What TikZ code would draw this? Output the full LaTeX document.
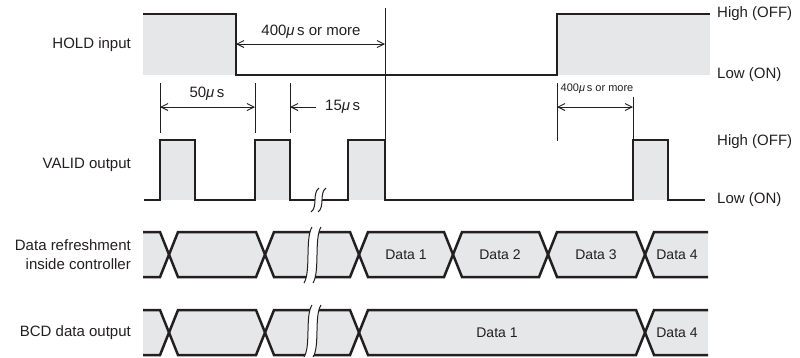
\documentclass[tikz,border=0pt]{standalone}
\usepackage{fontspec}
\setmainfont{Liberation Sans}
\usetikzlibrary{arrows.meta}
\definecolor{sig}{HTML}{231F20}
\definecolor{fillg}{HTML}{E6E7E8}
\newcommand\brkmark[4]{% #1 x of left curve, #2 top, #3 bottom, #4 gap
  \fill[white] ({#1+4},#2) .. controls ({#1-3},{#2+0.2*(#3-#2)}) and ({#1+3},{#2+0.8*(#3-#2)}) .. ({#1-4},#3)
     -- ({#1+#4-4},#3) .. controls ({#1+#4+3},{#2+0.8*(#3-#2)}) and ({#1+#4-3},{#2+0.2*(#3-#2)}) .. ({#1+#4+4},#2) -- cycle;
  \draw[brkline] ({#1+4},#2) .. controls ({#1-3},{#2+0.2*(#3-#2)}) and ({#1+3},{#2+0.8*(#3-#2)}) .. ({#1-4},#3);
  \draw[brkline] ({#1+#4+4},#2) .. controls ({#1+#4-3},{#2+0.2*(#3-#2)}) and ({#1+#4+3},{#2+0.8*(#3-#2)}) .. ({#1+#4-4},#3);
}
\begin{document}
\begin{tikzpicture}[x=1bp,y=-1bp,
  sigline/.style={draw=sig,line width=2.5bp,line join=miter},
  dimline/.style={draw=sig,line width=0.9bp},
  brkline/.style={draw=sig,line width=1bp},
  barb/.tip={Straight Barb[length=7bp,width=7bp]},
  lbl/.style={font=\fontsize{15bp}{19bp}\selectfont,text=sig,inner sep=0pt},
  dlbl/.style={font=\fontsize{14bp}{17bp}\selectfont,text=sig,inner sep=0pt},
  slbl/.style={font=\fontsize{11bp}{12bp}\selectfont,text=sig,inner sep=0pt}]
\useasboundingbox (0,0) rectangle (800,357);

% ---------- HOLD input ----------
\fill[fillg] (143,14) rectangle (236,75);
\fill[fillg] (557,14) rectangle (710,75);
\draw[sigline] (143,14) -- (236,14) -- (236,75) -- (557,75) -- (557,14) -- (710,14);
\node[lbl,anchor=east] (hold) at (131,45) {HOLD input};
\node[lbl,anchor=west] (hhigh) at (717,14) {High (OFF)};
\node[lbl,anchor=west] (hlow) at (717,75) {Low (ON)};

% 400 us or more (top)
\draw[dimline] (385,8) -- (385,140);
\draw[dimline,barb-barb] (236,44) -- (385,44);
\node[lbl] (t400) at (311,32) {400\textit{μ}\,s or more};

% ---------- VALID output ----------
\fill[fillg] (160,140) rectangle (195,200);
\fill[fillg] (255,140) rectangle (290,200);
\fill[fillg] (348,140) rectangle (385,200);
\fill[fillg] (633,140) rectangle (668,200);
\draw[sigline] (144,200) -- (160,200) -- (160,140) -- (195,140) -- (195,200) -- (255,200) -- (255,140)
  -- (290,140) -- (290,200) -- (348,200) -- (348,140) -- (385,140) -- (385,200) -- (633,200)
  -- (633,140) -- (668,140) -- (668,200) -- (705,200);
\brkmark{315}{188}{212}{7}
\node[lbl,anchor=east] (valid) at (131,165) {VALID output};
\node[lbl,anchor=west] (vhigh) at (717,142) {High (OFF)};
\node[lbl,anchor=west] (vlow) at (717,200) {Low (ON)};

% 50 us / 15 us
\draw[dimline] (160,83) -- (160,133);
\draw[dimline] (255,83) -- (255,133);
\draw[dimline] (290,83) -- (290,133);
\draw[dimline,barb-barb] (160,107) -- (255,107);
\draw[dimline,-barb] (316,107) -- (290,107);
\node[lbl] (t50) at (207,94) {50\textit{μ}\,s};
\node[lbl,anchor=west] (t15) at (325,107) {15\textit{μ}\,s};

% 400 us or more (small)
\draw[dimline] (557,83) -- (557,141);
\draw[dimline] (633,97) -- (633,140);
\draw[dimline,barb-barb] (557,107) -- (633,107);
\node[slbl] (t400s) at (597,89) {400\textit{μ}\,s or more};

% ---------- Data refreshment ----------
\fill[fillg] (143,232) -- (160,232) -- (169,254.5) -- (178,232) -- (256,232) -- (265,254.5) -- (274,232)
  -- (350,232) -- (359,254.5) -- (368,232) -- (444,232) -- (453,254.5) -- (462,232) -- (539,232)
  -- (548,254.5) -- (557,232) -- (636,232) -- (645,254.5) -- (654,232) -- (708,232) -- (708,277)
  -- (654,277) -- (645,254.5) -- (636,277) -- (557,277) -- (548,254.5) -- (539,277) -- (462,277)
  -- (453,254.5) -- (444,277) -- (368,277) -- (359,254.5) -- (350,277) -- (274,277) -- (265,254.5)
  -- (256,277) -- (178,277) -- (169,254.5) -- (160,277) -- (143,277) -- cycle;
\draw[sigline] (143,232) -- (160,232) -- (178,277) -- (256,277) -- (274,232) -- (350,232) -- (368,277)
  -- (444,277) -- (462,232) -- (539,232) -- (557,277) -- (636,277) -- (654,232) -- (708,232);
\draw[sigline] (143,277) -- (160,277) -- (178,232) -- (256,232) -- (274,277) -- (350,277) -- (368,232)
  -- (444,232) -- (462,277) -- (539,277) -- (557,232) -- (636,232) -- (654,277) -- (708,277);
\brkmark{308}{227}{283}{9}
\node[lbl,anchor=east,align=right] (dref) at (131,255) {Data refreshment\\inside controller};
\node[dlbl] (d1) at (406,255) {Data 1};
\node[dlbl] (d2) at (500,255) {Data 2};
\node[dlbl] (d3) at (596,255) {Data 3};
\node[dlbl] (d4) at (677,255) {Data 4};

% ---------- BCD data output ----------
\fill[fillg] (143,310) -- (160,310) -- (169,332.5) -- (178,310) -- (256,310) -- (265,332.5) -- (274,310)
  -- (350,310) -- (359,332.5) -- (368,310) -- (636,310) -- (645,332.5) -- (654,310) -- (708,310)
  -- (708,355) -- (654,355) -- (645,332.5) -- (636,355) -- (368,355) -- (359,332.5) -- (350,355)
  -- (274,355) -- (265,332.5) -- (256,355) -- (178,355) -- (169,332.5) -- (160,355) -- (143,355) -- cycle;
\draw[sigline] (143,310) -- (160,310) -- (178,355) -- (256,355) -- (274,310) -- (350,310) -- (368,355)
  -- (636,355) -- (654,310) -- (708,310);
\draw[sigline] (143,355) -- (160,355) -- (178,310) -- (256,310) -- (274,355) -- (350,355) -- (368,310)
  -- (636,310) -- (654,355) -- (708,355);
\brkmark{308}{305}{357}{9}
\node[lbl,anchor=east] (bcd) at (131,333) {BCD data output};
\node[dlbl] (b1) at (497,333) {Data 1};
\node[dlbl] (b4) at (677,333) {Data 4};
\end{tikzpicture}
\end{document}
